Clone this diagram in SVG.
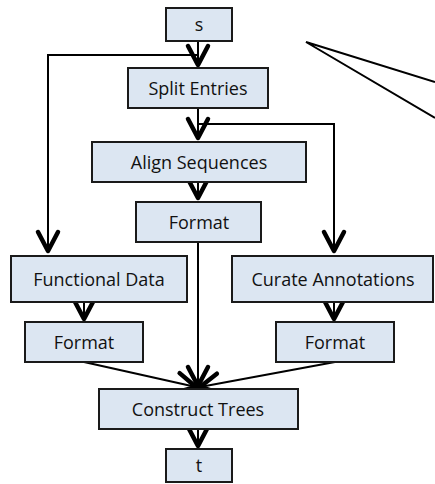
<svg xmlns="http://www.w3.org/2000/svg" width="435" height="484" viewBox="0 0 435 484">
  <style>
    .box { fill: #dce6f2; stroke: #1a1a1a; stroke-width: 2; }
    .lbl { font-family: "Open Sans", "Liberation Sans", sans-serif; font-size: 18px; fill: #111; text-anchor: middle; }
    .wire { fill: none; stroke: #000; stroke-width: 2; }
    .arr { marker-end: url(#vee); }
  </style>
  <defs>
    <marker id="vee" markerUnits="userSpaceOnUse" orient="auto" viewBox="-26 -16 32 32" refX="0" refY="0" markerWidth="32" markerHeight="32">
      <path d="M-19,-10 L0,0 L-19,10" fill="none" stroke="#000" stroke-width="4.5" stroke-linecap="round" stroke-linejoin="round"/>
    </marker>
  </defs>

  <!-- connectors -->
  <g id="connectors">
    <line class="wire arr" x1="198" y1="41" x2="198" y2="65"/>
    <polyline class="wire arr" points="198,55 48,55 48,251"/>
    <line class="wire arr" x1="198" y1="108" x2="198" y2="138"/>
    <polyline class="wire arr" points="198,124 334,124 334,251"/>
    <line class="wire arr" x1="198" y1="182" x2="198" y2="198"/>
    <line class="wire arr" x1="198" y1="242" x2="198" y2="386"/>
    <line class="wire arr" x1="84" y1="302" x2="84" y2="319"/>
    <line class="wire arr" x1="334" y1="302" x2="334" y2="319"/>
    <line class="wire arr" x1="84" y1="362" x2="196" y2="387"/>
    <line class="wire arr" x1="335" y1="362" x2="200" y2="387"/>
    <line class="wire arr" x1="198" y1="429" x2="198" y2="446"/>
    <polyline class="wire" points="435,82 306,42 435,118"/>
  </g>

  <g id="s">
    <rect class="box" x="166" y="8" width="66" height="33"/>
    <text class="lbl" x="199" y="31">s</text>
  </g>
  <g id="split-entries">
    <rect class="box" x="128" y="68" width="140" height="40"/>
    <text class="lbl" x="198" y="95">Split Entries</text>
  </g>
  <g id="align-sequences">
    <rect class="box" x="92" y="142" width="214" height="40"/>
    <text class="lbl" x="199" y="169">Align Sequences</text>
  </g>
  <g id="format-align">
    <rect class="box" x="136" y="202" width="125" height="40"/>
    <text class="lbl" x="199" y="229">Format</text>
  </g>
  <g id="functional-data">
    <rect class="box" x="11" y="256" width="176" height="46"/>
    <text class="lbl" x="99" y="286">Functional Data</text>
  </g>
  <g id="curate-annotations">
    <rect class="box" x="232" y="256" width="201" height="46"/>
    <text class="lbl" x="333" y="286">Curate Annotations</text>
  </g>
  <g id="format-functional">
    <rect class="box" x="25" y="322" width="118" height="40"/>
    <text class="lbl" x="84" y="349">Format</text>
  </g>
  <g id="format-curate">
    <rect class="box" x="276" y="322" width="118" height="40"/>
    <text class="lbl" x="335" y="349">Format</text>
  </g>
  <g id="construct-trees">
    <rect class="box" x="99" y="389" width="199" height="40"/>
    <text class="lbl" x="198" y="416">Construct Trees</text>
  </g>
  <g id="t">
    <rect class="box" x="166" y="449" width="66" height="33"/>
    <text class="lbl" x="199" y="472">t</text>
  </g>
</svg>
